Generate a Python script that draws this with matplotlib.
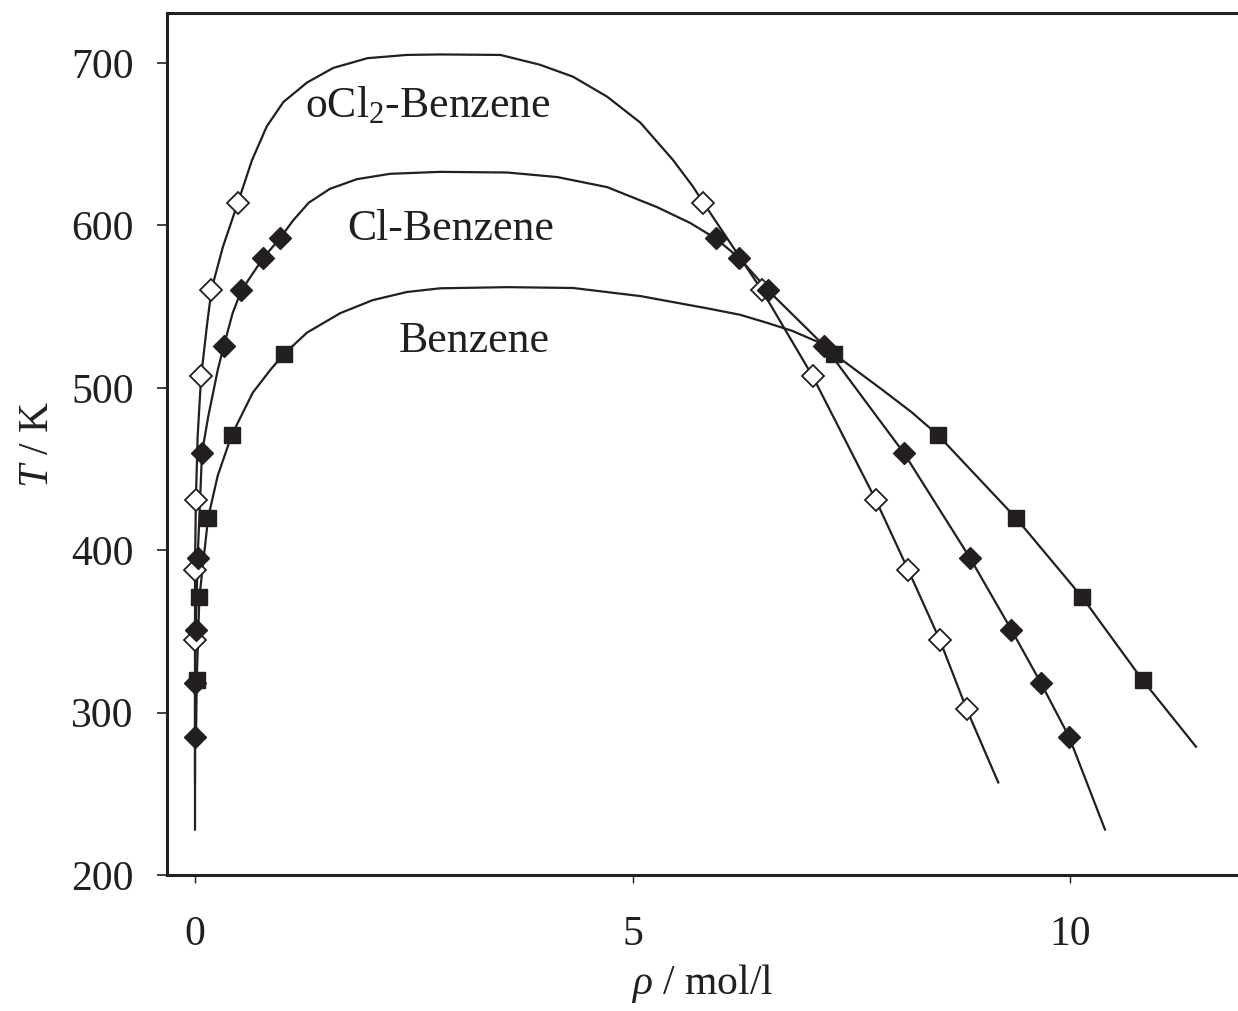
import matplotlib
matplotlib.use("Agg")
import matplotlib.pyplot as plt

plt.rcParams['font.family'] = ['Liberation Serif', 'DejaVu Serif']
plt.rcParams['mathtext.fontset'] = 'custom'
plt.rcParams['mathtext.rm'] = 'Liberation Serif'
plt.rcParams['mathtext.it'] = 'Liberation Serif:italic'

ink = '#231f20'

# measured points: o-dichlorobenzene (open diamonds)
ocl2_T_vap = [345, 388, 431, 507, 560, 614]
ocl2_rho_vap = [0.0, 0.0, 0.01, 0.07, 0.18, 0.49]
ocl2_T_liq = [614, 560, 507, 431, 388, 345, 302]
ocl2_rho_liq = [5.81, 6.48, 7.06, 7.78, 8.15, 8.51, 8.82]

# chlorobenzene (filled diamonds)
cl_T_vap = [285, 318, 351, 395, 460, 526, 560, 580, 592]
cl_rho_vap = [0.0, 0.0, 0.01, 0.03, 0.08, 0.33, 0.53, 0.78, 0.97]
cl_T_liq = [592, 580, 560, 526, 460, 395, 351, 318, 285]
cl_rho_liq = [5.95, 6.22, 6.55, 7.19, 8.10, 8.86, 9.33, 9.67, 9.99]

# benzene (filled squares)
bz_T_vap = [320, 371, 420, 471, 521]
bz_rho_vap = [0.02, 0.05, 0.15, 0.42, 1.02]
bz_T_liq = [521, 471, 420, 371, 320]
bz_rho_liq = [7.30, 8.49, 9.38, 10.14, 10.83]

# coexistence curves
ocl2_curve_rho = [0.0, 0.0, 0.0, 0.01, 0.03, 0.07, 0.14, 0.19, 0.32, 0.49, 0.65, 0.82,
                  1.01, 1.28, 1.58, 1.97, 2.42, 2.8, 3.49, 3.94, 4.32, 4.71, 5.09, 5.46,
                  5.69, 5.81, 6.48, 7.06, 7.78, 8.15, 8.51, 8.82, 9.18]
ocl2_curve_T = [257, 345, 388, 431, 470, 507, 540, 561, 587, 614, 640, 661,
                676, 688, 697, 703, 705, 705.3, 705, 699, 691.6, 679.3, 663.3, 640.5,
                624, 614, 560, 507, 431, 388, 345, 302, 257]

cl_curve_rho = [0.0, 0.0, 0.0, 0.01, 0.03, 0.08, 0.15, 0.26, 0.33, 0.43, 0.53, 0.78,
                0.97, 1.12, 1.3, 1.54, 1.85, 2.23, 2.8, 3.57, 4.14, 4.71, 5.28, 5.66,
                5.95, 6.22, 6.55, 7.19, 8.10, 8.86, 9.33, 9.67, 9.99, 10.4]
cl_curve_T = [228, 285, 318, 351, 395, 460, 482, 511, 526, 546, 560, 580,
              592, 603, 614, 622.5, 628.5, 631.8, 633, 632.6, 629.8, 623.6, 611.3, 601.5,
              592, 580, 560, 526, 460, 395, 351, 318, 285, 228]

bz_curve_rho = [0.01, 0.02, 0.05, 0.15, 0.26, 0.42, 0.66, 0.86, 1.02, 1.28, 1.66, 2.03,
                2.42, 2.8, 3.57, 4.32, 5.09, 5.85, 6.23, 6.54, 6.83, 7.13, 7.30, 7.85,
                8.19, 8.49, 9.38, 10.14, 10.83, 11.44]
bz_curve_T = [279, 320, 371, 420, 446, 471, 497, 511, 521, 534, 546, 554,
              559, 561.3, 562, 561.5, 556.5, 549, 545, 540, 535, 528, 521, 499,
              485, 471, 420, 371, 320, 279]

labels = ['oCl$_2$-Benzene', 'Cl-Benzene', 'Benzene']
label_x = [1.26, 1.74, 2.33]
label_y = [674, 598, 529]

fig = plt.figure(figsize=(12.38, 10.11), dpi=100)
ax = fig.add_axes([0.1349, 0.1345, 0.8651, 0.8526])

lw = 1.6
for rho, T in [(ocl2_curve_rho, ocl2_curve_T), (cl_curve_rho, cl_curve_T),
               (bz_curve_rho, bz_curve_T)]:
    ax.plot(rho, T, color=ink, lw=lw, zorder=2, solid_joinstyle='round')

for rho, T in [(ocl2_rho_vap, ocl2_T_vap), (ocl2_rho_liq, ocl2_T_liq)]:
    ax.plot(rho, T, ls='none', marker='D', ms=11, mfc='white', mec=ink, mew=1.3, zorder=3)
for rho, T in [(cl_rho_vap, cl_T_vap), (cl_rho_liq, cl_T_liq)]:
    ax.plot(rho, T, ls='none', marker='D', ms=11, mfc=ink, mec=ink, mew=1, zorder=4)
for rho, T in [(bz_rho_vap, bz_T_vap), (bz_rho_liq, bz_T_liq)]:
    ax.plot(rho, T, ls='none', marker='s', ms=12, mfc=ink, mec=ink, mew=1, zorder=4)

for txt, x, y in zip(labels, label_x, label_y):
    ax.text(x, y, txt, fontsize=31.5, color=ink, ha='left', va='center')

ax.set_xlim(-0.32, 11.92)
ax.set_ylim(200, 730.8)
ax.set_xticks([0, 5, 10])
ax.set_yticks([200, 300, 400, 500, 600, 700])
ax.tick_params(axis='y', direction='out', length=7, width=1.2, pad=17, labelsize=30, colors=ink)
ax.tick_params(axis='x', direction='out', length=6, width=1.0, pad=23, labelsize=30, colors=ink)

for s in ['left', 'top', 'bottom']:
    ax.spines[s].set_linewidth(2.2)
    ax.spines[s].set_color(ink)
ax.spines['right'].set_visible(False)

ax.set_xlabel(r'$\mathit{\rho}$ / mol/l', fontsize=30, color=ink, labelpad=6)
ax.set_ylabel(r'$\mathit{T}$ / K', fontsize=30, color=ink, labelpad=10)

fig.savefig('out.png', dpi=100)
